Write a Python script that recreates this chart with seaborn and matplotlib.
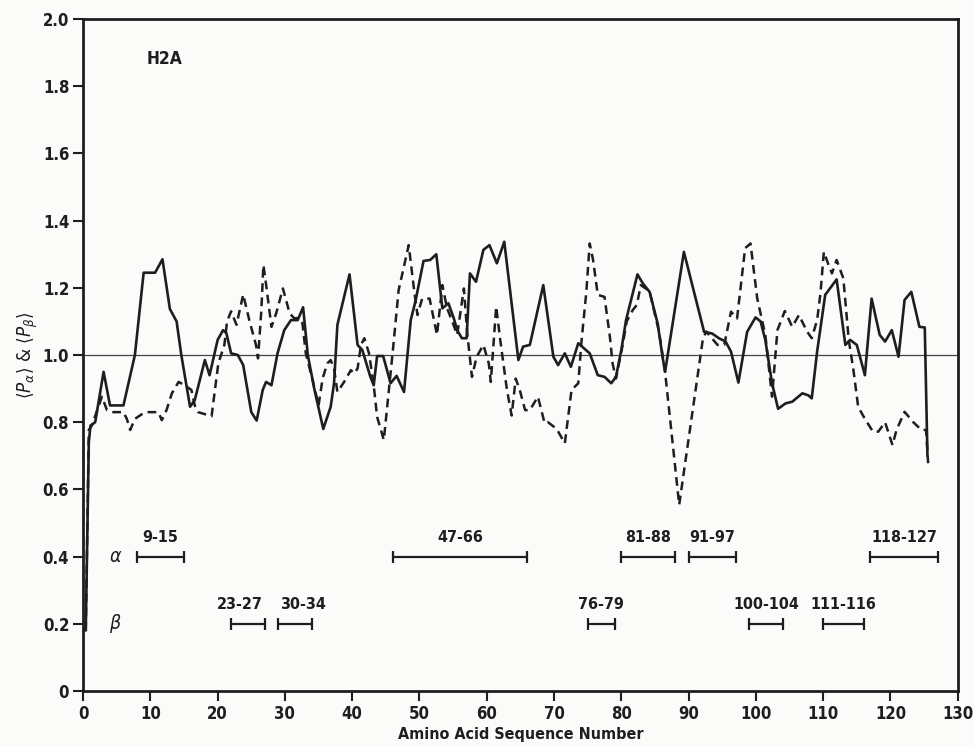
import seaborn as sns
import matplotlib.pyplot as plt
import numpy as np

# ---- data ----
# solid line: <P_alpha>
alpha_x = [0.4, 0.85, 1.1, 1.8, 3.05, 4.0, 6.0, 7.7, 9.0, 10.7, 11.8, 12.9, 13.9, 14.6,
           15.9, 16.6, 18.1, 18.8, 20.0, 20.8, 21.3, 22.0, 23.0, 23.8, 25.0, 25.8, 26.7,
           27.2, 28.0, 28.9, 29.9, 30.9, 31.9, 32.7, 33.4, 34.4, 35.7, 36.8, 37.3, 37.8,
           39.6, 40.8, 41.5, 42.7, 43.2, 43.7, 44.6, 45.7, 46.6, 47.7, 48.7, 49.4, 50.6,
           51.6, 52.5, 53.4, 54.3, 55.1, 55.6, 56.3, 57.0, 57.5, 58.4, 59.5, 60.4, 61.5,
           62.6, 64.7, 65.4, 66.4, 68.4, 69.9, 70.6, 71.6, 72.5, 73.6, 75.3, 76.5, 77.5,
           78.5, 79.2, 80.0, 80.7, 82.4, 83.2, 84.2, 85.4, 86.1, 86.5, 89.3, 92.3, 93.5,
           94.5, 95.5, 96.3, 97.4, 98.7, 99.95, 100.7, 101.4, 102.4, 103.3, 104.4, 105.4,
           106.9, 107.8, 108.3, 109.1, 110.3, 112.0, 113.3, 114.0, 115.0, 116.2, 117.2,
           118.4, 119.2, 120.2, 121.2, 122.1, 123.1, 124.3, 125.1, 125.5]
alpha_y = [0.18, 0.74, 0.79, 0.80, 0.95, 0.85, 0.85, 1.0, 1.245, 1.245, 1.285, 1.137, 1.10, 1.0,
           0.846, 0.866, 0.985, 0.94, 1.045, 1.074, 1.065, 1.005, 1.0, 0.97, 0.83, 0.805, 0.896,
           0.92, 0.91, 1.005, 1.074, 1.104, 1.104, 1.142, 1.0, 0.896, 0.78, 0.846, 0.916, 1.09,
           1.24, 1.03, 1.015, 0.935, 0.91, 0.997, 0.997, 0.916, 0.938, 0.89, 1.104, 1.16, 1.28,
           1.283, 1.30, 1.139, 1.154, 1.109, 1.074, 1.05, 1.05, 1.243, 1.218, 1.313, 1.327, 1.273,
           1.337, 0.985, 1.025, 1.03, 1.208, 0.995, 0.97, 1.005, 0.965, 1.035, 1.005, 0.94, 0.935,
           0.916, 0.935, 1.015, 1.104, 1.24, 1.213, 1.188, 1.094, 0.998, 0.95, 1.307, 1.069, 1.064,
           1.05, 1.04, 1.01, 0.918, 1.069, 1.112, 1.10, 1.045, 0.916, 0.84, 0.856, 0.861,
           0.886, 0.88, 0.871, 1.01, 1.179, 1.225, 1.03, 1.045, 1.03, 0.94, 1.168,
           1.06, 1.04, 1.074, 0.995, 1.164, 1.188, 1.084, 1.082, 0.70]

# dashed line: <P_beta>
beta_x = [0.4, 0.85, 1.3, 2.8, 3.55, 4.5, 6.0, 6.5, 7.0, 7.7, 9.2, 11.2, 11.7, 12.4, 13.2,
          14.2, 15.1, 16.1, 16.6, 17.1, 19.1, 20.1, 21.0, 21.4, 22.0, 22.8, 23.8, 24.7, 25.7,
          26.0, 26.5, 26.8, 27.2, 28.0, 28.7, 29.7, 30.7, 31.4, 31.9, 32.6, 33.1, 34.1, 35.0,
          35.6, 36.3, 36.8, 37.3, 37.8, 38.8, 39.8, 40.3, 40.8, 41.3, 41.8, 42.5, 43.2, 43.7,
          44.7, 45.5, 46.0, 46.9, 48.4, 49.2, 49.7, 50.4, 51.5, 52.6, 53.4, 54.1, 54.8, 55.6,
          56.6, 57.1, 57.8, 58.5, 59.5, 60.3, 60.6, 61.4, 62.0, 63.0, 63.7, 64.3, 64.9, 65.7,
          66.4, 67.6, 68.6, 69.1, 70.4, 71.6, 72.6, 73.6, 74.1, 74.8, 75.3, 75.8, 76.5, 77.5,
          78.3, 78.7, 79.2, 80.2, 80.8, 81.7, 82.3, 82.9, 84.2, 85.0, 85.6, 86.5, 88.6, 92.1,
          92.6, 94.3, 95.3, 96.3, 97.2, 98.4, 99.2, 100.2, 101.4, 102.4, 103.2, 104.3, 105.4,
          106.4, 107.6, 108.3, 109.1, 109.6, 110.1, 110.8, 111.3, 112.0, 113.0, 113.8, 114.5,
          115.2, 116.2, 117.4, 118.2, 119.2, 120.3, 120.9, 122.1, 123.4, 124.6, 125.3, 125.6]
beta_y = [0.18, 0.777, 0.79, 0.876, 0.836, 0.83, 0.83, 0.81, 0.777, 0.81, 0.83, 0.83, 0.806, 0.836, 0.886,
          0.92, 0.91, 0.896, 0.85, 0.83, 0.818, 0.975, 1.03, 1.10, 1.13, 1.09, 1.18, 1.104, 1.03,
          0.99, 1.134, 1.268, 1.21, 1.084, 1.124, 1.198, 1.124, 1.109, 1.11, 1.095, 1.005, 0.926, 0.85,
          0.93, 0.975, 0.985, 0.96, 0.89, 0.92, 0.955, 0.945, 0.96, 1.03, 1.05, 1.005, 0.91, 0.816,
          0.747, 0.906, 1.005, 1.193, 1.327, 1.193, 1.119, 1.168, 1.168, 1.06, 1.208, 1.139, 1.104, 1.06,
          1.198, 1.064, 0.935, 0.995, 1.03, 0.975, 0.92, 1.144, 1.045, 0.896, 0.82, 0.93, 0.896, 0.836,
          0.836, 0.876, 0.797, 0.80, 0.78, 0.737, 0.896, 0.916, 1.045, 1.188, 1.332, 1.283, 1.179, 1.173,
          1.054, 0.975, 0.93, 1.03, 1.10, 1.134, 1.149, 1.208, 1.19, 1.12, 1.07, 0.95, 0.554, 1.045,
          1.07, 1.03, 1.03, 1.129, 1.109, 1.318, 1.332, 1.168, 1.06, 0.876, 1.074, 1.131, 1.084,
          1.119, 1.07, 1.05, 1.104, 1.184, 1.307, 1.268, 1.243, 1.283, 1.228, 1.045, 0.955,
          0.846, 0.81, 0.772, 0.772, 0.80, 0.732, 0.777, 0.831, 0.80, 0.777, 0.777, 0.678]

# predicted segments
alpha_segments = [(9, 15), (47, 66), (81, 88), (91, 97), (118, 127)]
beta_segments = [(23, 27), (30, 34), (76, 79), (100, 104), (111, 116)]

x_ticks = list(range(0, 131, 10))
y_ticks = [0, 0.2, 0.4, 0.6, 0.8, 1.0, 1.2, 1.4, 1.6, 1.8, 2.0]
y_tick_labels = ["0", "0.2", "0.4", "0.6", "0.8", "1.0", "1.2", "1.4", "1.6", "1.8", "2.0"]

# ---- style ----
sns.set_theme(style="ticks")
plt.rcParams['font.family'] = ['DejaVu Sans']
plt.rcParams['font.stretch'] = 'condensed'
ink = "#1e1e1e"

fig = plt.figure(figsize=(9.74, 7.46), dpi=100, facecolor="#fbfbfa")
ax = fig.add_axes([0.0853, 0.0737, 0.898, 0.9008])
ax.set_facecolor("#fbfbfa")

sns.lineplot(x=alpha_x, y=alpha_y, ax=ax, color=ink, lw=1.9, sort=False, estimator=None)
sns.lineplot(x=beta_x, y=beta_y, ax=ax, color=ink, lw=1.8, sort=False, estimator=None,
             linestyle=(0, (3.5, 2.2)))

ax.axhline(1.0, color="#444444", lw=0.9, zorder=1)

# segment bars with end caps (two close beta labels get pushed apart a little)
seg_font = dict(fontsize=11.5, fontweight="bold", color=ink, ha="center", va="bottom")
nudge = {(23, 27): -1.2, (30, 34): 1.2}
for start, end in alpha_segments:
    ax.plot([start - 1, end], [0.4, 0.4], color=ink, lw=1.6, marker="|", ms=9, mew=1.6)
    ax.text((start - 1 + end) / 2, 0.435, f"{start}-{end}", **seg_font)
for start, end in beta_segments:
    ax.plot([start - 1, end], [0.2, 0.2], color=ink, lw=1.6, marker="|", ms=9, mew=1.6)
    ax.text((start - 1 + end) / 2 + nudge.get((start, end), 0), 0.235, f"{start}-{end}", **seg_font)

ax.text(4.8, 0.4, r"$\alpha$", ha="center", va="center", fontsize=14, color=ink)
ax.text(4.8, 0.2, r"$\beta$", ha="center", va="center", fontsize=14, color=ink)
ax.text(12.1, 1.88, "H2A", ha="center", va="center", fontsize=12.5, fontweight="bold", color=ink)

ax.set_xlim(0, 130)
ax.set_ylim(0, 2.0)
ax.set_xticks(x_ticks)
ax.set_yticks(y_ticks)
ax.set_yticklabels(y_tick_labels)
ax.tick_params(axis="both", direction="out", length=7, width=1.5, colors=ink,
               labelsize=12, pad=3)
for lab in ax.get_xticklabels() + ax.get_yticklabels():
    lab.set_fontweight("bold")

for side in ["left", "right", "top", "bottom"]:
    ax.spines[side].set_visible(True)
    ax.spines[side].set_linewidth(2.0)
    ax.spines[side].set_color(ink)

ax.set_xlabel("Amino Acid Sequence Number", fontsize=11.5, fontweight="bold", color=ink, labelpad=3)
ax.set_ylabel(r"$\langle P_\alpha \rangle$ & $\langle P_\beta \rangle$", fontsize=13.5,
              color=ink, labelpad=2)

plt.savefig("out.png", dpi=100, facecolor=fig.get_facecolor())
plt.close()
